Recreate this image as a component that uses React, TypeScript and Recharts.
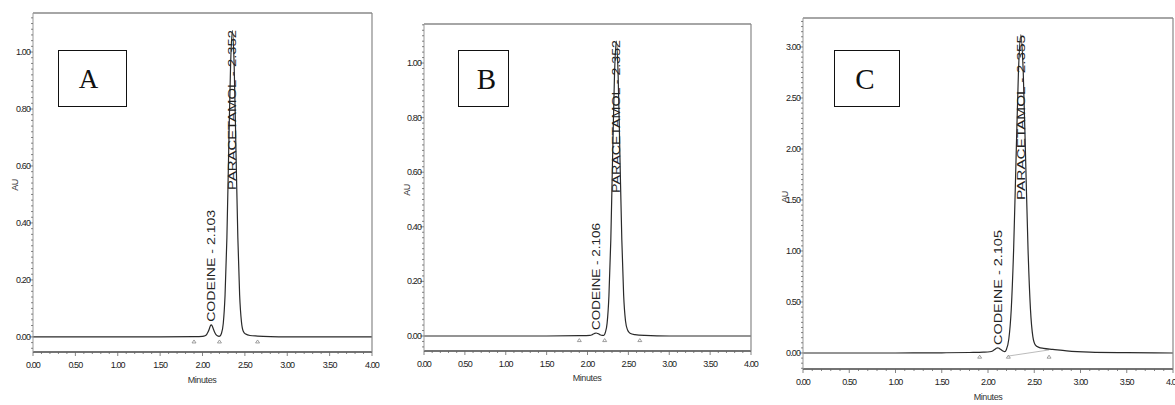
import { ComposedChart, Line, Scatter, XAxis, YAxis } from 'recharts'

type Pt = [number, number]

const xMajor = [0, 0.5, 1, 1.5, 2, 2.5, 3, 3.5, 4]
const peakNames = ['CODEINE', 'PARACETAMOL']

// A
const traceA: Pt[] = [
  [0, 0], [0.5, 0], [1, 0], [1.5, 0], [1.9, 0.001], [2.0, 0.002],
  [2.03, 0.004], [2.05, 0.009], [2.065, 0.017], [2.08, 0.028], [2.092, 0.038], [2.103, 0.042],
  [2.115, 0.038], [2.128, 0.028], [2.142, 0.017], [2.157, 0.009], [2.175, 0.004], [2.195, 0.002],
  [2.21, 0.004], [2.223, 0.012], [2.245, 0.047], [2.266, 0.145], [2.288, 0.349], [2.309, 0.652],
  [2.331, 0.949], [2.352, 1.075], [2.374, 0.949], [2.395, 0.652], [2.417, 0.349], [2.438, 0.148],
  [2.46, 0.052], [2.481, 0.02], [2.51, 0.01], [2.56, 0.005], [2.65, 0.003], [2.8, 0.001],
  [3, 0], [3.5, 0], [4, 0],
]
const rtA = [2.103, 2.352]
const labelBaseA = [0.053, 0.516]
const markersA = [1.9, 2.2, 2.65]
const yMajorA = [0, 0.2, 0.4, 0.6, 0.8, 1.0]

// B
const traceB: Pt[] = [
  [0, 0], [0.5, 0], [1, 0], [1.5, 0], [1.9, 0.001], [2.03, 0.002],
  [2.06, 0.005], [2.085, 0.009], [2.106, 0.011], [2.127, 0.009], [2.15, 0.005], [2.18, 0.002],
  [2.2, 0.002], [2.217, 0.012], [2.24, 0.047], [2.262, 0.146], [2.285, 0.351], [2.307, 0.655],
  [2.33, 0.953], [2.352, 1.08], [2.375, 0.953], [2.397, 0.655], [2.42, 0.351], [2.442, 0.15],
  [2.465, 0.055], [2.49, 0.022], [2.52, 0.01], [2.58, 0.005], [2.7, 0.002],
  [3, 0], [3.5, 0], [4, 0],
]
const rtB = [2.106, 2.352]
const labelBaseB = [0.022, 0.524]
const markersB = [1.9, 2.21, 2.64]
const yMajorB = [0, 0.2, 0.4, 0.6, 0.8, 1.0]

// C
const traceC: Pt[] = [
  [0, 0], [0.5, 0], [1, 0], [1.5, 0.002], [1.8, 0.005], [1.95, 0.008], [2.02, 0.012],
  [2.05, 0.02], [2.075, 0.036], [2.09, 0.046], [2.105, 0.05], [2.12, 0.046], [2.135, 0.036],
  [2.16, 0.02], [2.18, 0.013], [2.199, 0.035], [2.225, 0.137], [2.251, 0.422], [2.277, 1.013],
  [2.303, 1.892], [2.329, 2.753], [2.355, 3.12], [2.381, 2.753], [2.407, 1.892], [2.433, 1.013],
  [2.459, 0.43], [2.485, 0.16], [2.511, 0.08], [2.55, 0.055], [2.6, 0.045], [2.7, 0.035],
  [2.85, 0.02], [3.1, 0.008], [3.5, 0.003], [4, 0],
]
const integrationC: Pt[] = [[2.22, -0.03], [2.66, 0.03]]
const rtC = [2.105, 2.355]
const labelBaseC = [0.078, 1.5]
const markersC = [1.91, 2.22, 2.66]
const yMajorC = [0, 0.5, 1.0, 1.5, 2.0, 2.5, 3.0]

const FONT = "Arial, 'Liberation Sans', sans-serif"

const steps = (lo: number, hi: number, step: number) => {
  const out: number[] = []
  for (let k = Math.ceil(lo / step - 1e-9); k * step <= hi + 1e-9; k++) out.push(+(k * step).toFixed(4))
  return out
}
const isMajor = (v: number, majors: number[]) => majors.some((m) => Math.abs(m - v) < 1e-6)

interface PanelProps {
  trace: Pt[]
  rts: number[]
  labelBase: number[]
  labelLen: number[]
  markers: number[]
  markerLevel: number
  yMajor: number[]
  yMinorStep: number
  yDomain: [number, number]
  left: number
  width: number
  margin: { top: number; right: number; bottom: number; left: number }
  extra?: Pt[]
}

function Panel(p: PanelProps) {
  const toRows = (pts: Pt[]) => pts.map(([t, v]) => ({ t, v }))
  const labels = p.rts.map((rt, i) => ({ t: rt, v: p.labelBase[i], i, text: `${peakNames[i]} - ${rt.toFixed(3)}` }))
  const marks = p.markers.map((t) => ({ t, v: p.markerLevel }))
  const yTicks = steps(p.yDomain[0], p.yDomain[1], p.yMinorStep)
  const xTicks = steps(0, 4, 0.1)

  const YTick = (props: any) => {
    const { x, y, payload } = props
    const major = isMajor(payload.value, p.yMajor)
    return (
      <g>
        <line x1={x - (major ? 4 : 2)} x2={x} y1={y} y2={y} stroke="#666" strokeWidth={0.8} />
        {major && (
          <text x={x - 3} y={y + 3} textAnchor="end" fontSize={9} letterSpacing={-0.9} fill="#222" fontFamily={FONT}>
            {payload.value.toFixed(2)}
          </text>
        )}
      </g>
    )
  }
  const XTick = (props: any) => {
    const { x, y, payload } = props
    const major = isMajor(payload.value, xMajor)
    return (
      <g>
        <line x1={x} x2={x} y1={y} y2={y + (major ? 4 : 2)} stroke="#666" strokeWidth={0.8} />
        {major && (
          <text x={x} y={y + 16} textAnchor="middle" fontSize={9} letterSpacing={-0.9} fill="#222" fontFamily={FONT}>
            {payload.value.toFixed(2)}
          </text>
        )}
      </g>
    )
  }
  const PeakText = (props: any) => {
    const { cx, cy, payload } = props
    return (
      <text
        x={cx}
        y={cy}
        dy={4}
        transform={`rotate(-90 ${cx} ${cy})`}
        fontSize={11}
        fill="#222"
        fontFamily={FONT}
        textLength={p.labelLen[payload.i]}
        lengthAdjust="spacingAndGlyphs"
      >
        {payload.text}
      </text>
    )
  }
  const Marker = (props: any) => {
    const { cx, cy } = props
    return <path d={`M${cx - 2},${cy + 1.5} L${cx + 2},${cy + 1.5} L${cx},${cy - 1.5} Z`} fill="none" stroke="#888" strokeWidth={0.8} />
  }

  return (
    <div style={{ position: 'absolute', left: p.left, top: 0 }}>
      <ComposedChart width={p.width} height={405} margin={p.margin}>
        <XAxis xAxisId="b" dataKey="t" type="number" domain={[0, 4]} ticks={xTicks} interval={0} height={1}
          tickSize={0} tickMargin={0} tickLine={false} tick={XTick} axisLine={{ stroke: '#444', strokeWidth: 1.5 }} allowDataOverflow />
        <XAxis xAxisId="t" orientation="top" type="number" domain={[0, 4]} height={1} tick={false} tickLine={false}
          axisLine={{ stroke: '#888', strokeWidth: 1.5 }} />
        <YAxis yAxisId="l" dataKey="v" type="number" domain={p.yDomain} ticks={yTicks} interval={0} width={1}
          tickSize={0} tickMargin={0} tickLine={false} tick={YTick} axisLine={{ stroke: '#999', strokeWidth: 1 }} allowDataOverflow />
        <YAxis yAxisId="r" orientation="right" type="number" domain={p.yDomain} width={1} tick={false} tickLine={false}
          axisLine={{ stroke: '#888', strokeWidth: 1.2 }} />
        {p.extra && (
          <Line xAxisId="b" yAxisId="l" data={toRows(p.extra)} dataKey="v" type="linear" dot={false}
            stroke="#aaa" strokeWidth={0.8} isAnimationActive={false} />
        )}
        <Line xAxisId="b" yAxisId="l" data={toRows(p.trace)} dataKey="v" type="monotone" dot={false}
          stroke="#2a2a2a" strokeWidth={1.2} isAnimationActive={false} />
        <Scatter xAxisId="b" yAxisId="l" data={marks} dataKey="v" shape={Marker} isAnimationActive={false} />
        <Scatter xAxisId="b" yAxisId="l" data={labels} dataKey="v" shape={PeakText} isAnimationActive={false} />
      </ComposedChart>
    </div>
  )
}

function LetterBox({ x, y, w, h, letter, size, dx }: { x: number; y: number; w: number; h: number; letter: string; size: number; dx: number }) {
  return (
    <div style={{
      position: 'absolute', left: x, top: y, width: w, height: h, boxSizing: 'border-box',
      border: '1.5px solid #111', background: '#fff', display: 'flex', alignItems: 'center', justifyContent: 'center',
    }}>
      <span style={{ fontFamily: "'Liberation Serif', 'Times New Roman', serif", fontSize: size, lineHeight: `${size}px`, color: '#111', transform: `translate(${dx}px, 1px)` }}>
        {letter}
      </span>
    </div>
  )
}

function AxisText({ cx, cy, text, rotate }: { cx: number; cy: number; text: string; rotate?: boolean }) {
  return (
    <div style={{
      position: 'absolute', left: cx - 40, top: cy - 5, width: 80, height: 10, lineHeight: '10px', textAlign: 'center',
      fontFamily: FONT, fontSize: 9, color: '#333', letterSpacing: -0.4, transform: rotate ? 'rotate(-90deg)' : undefined,
    }}>
      {text}
    </div>
  )
}

export default function App() {
  return (
    <div style={{ position: 'absolute', left: 0, top: 0, width: 1175, height: 405, overflow: 'hidden', background: '#fff' }}>
      <Panel trace={traceA} rts={rtA} labelBase={labelBaseA} labelLen={[112, 160]} markers={markersA} markerLevel={-0.016}
        yMajor={yMajorA} yMinorStep={0.02} yDomain={[-0.053, 1.137]} left={0} width={390}
        margin={{ top: 12, right: 17, bottom: 52, left: 32 }} />
      <Panel trace={traceB} rts={rtB} labelBase={labelBaseB} labelLen={[107, 153]} markers={markersB} markerLevel={-0.015}
        yMajor={yMajorB} yMinorStep={0.02} yDomain={[-0.055, 1.143]} left={395} width={375}
        margin={{ top: 23, right: 18, bottom: 53, left: 28 }} />
      <Panel trace={traceC} rts={rtC} labelBase={labelBaseC} labelLen={[115, 165]} markers={markersC} markerLevel={-0.036}
        yMajor={yMajorC} yMinorStep={0.05} yDomain={[-0.157, 3.284]} left={775} width={420}
        margin={{ top: 17, right: 21, bottom: 35, left: 27 }} extra={integrationC} />

      <LetterBox x={58} y={50} w={69} h={57} letter="A" size={27} dx={-4} />
      <LetterBox x={458} y={50} w={51} h={57} letter="B" size={29} dx={3} />
      <LetterBox x={834} y={50} w={66} h={57} letter="C" size={29} dx={-2} />

      <AxisText cx={15} cy={185} text="AU" rotate />
      <AxisText cx={407} cy={190} text="AU" rotate />
      <AxisText cx={785} cy={197} text="AU" rotate />
      <AxisText cx={202} cy={380} text="Minutes" />
      <AxisText cx={587} cy={378} text="Minutes" />
      <AxisText cx={988} cy={397} text="Minutes" />
    </div>
  )
}
